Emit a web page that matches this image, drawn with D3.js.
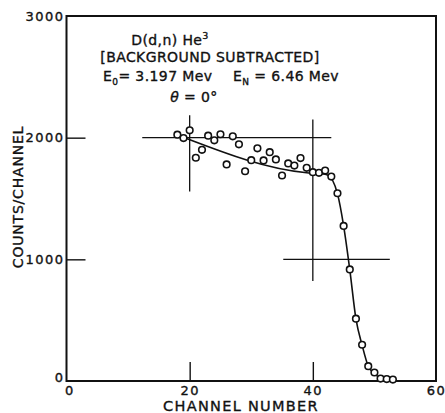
<!DOCTYPE html>
<html>
<head>
<meta charset="utf-8">
<script src="https://cdn.jsdelivr.net/npm/d3@7"></script>
<style>
  body { margin: 0; background: #fff; }
  text { font-family: "DejaVu Sans", sans-serif; fill: #111; stroke: #111; stroke-width: 0.35px; }
</style>
</head>
<body>
<div id="chart"></div>
<script>
// measured points (channel, counts per channel)
var channel = [18, 19, 20, 21, 22, 23, 24, 25, 26, 27, 28, 29, 30, 31, 32, 33, 34, 35,
               36, 37, 38, 39, 40, 41, 42, 43, 44, 45, 46, 47, 48, 49, 50, 51, 52, 53];
var counts = [2025, 1997, 2060, 1835, 1900, 2016, 1978, 2028, 1780, 2011, 1945, 1724, 1815, 1912,
              1813, 1881, 1821, 1689, 1788, 1771, 1832, 1752, 1716, 1711, 1730, 1680, 1543, 1275,
              917, 512, 298, 122, 70, 20, 16, 12];

// hand drawn fit curve
var fitChannel = [19.5, 39, 41, 42.5, 43.2, 44, 45, 46, 47, 48, 49, 50, 51, 52, 53];
var fitCounts = [1993, 1712, 1705, 1692, 1650, 1540, 1275, 915, 510, 295, 122, 62, 22, 13, 10];

// calibration crosses
var crossChannel = [20, 40];
var crossCount = [2000, 1000];
var crossLeft = [12.3, 35.2];
var crossRight = [43, 52.5];
var crossBottom = [1557, 822];
var crossTop = [2185, 2150];

var xTicks = [0, 20, 40, 60];
var yTicks = [0, 1000, 2000, 3000];

var margin = {top: 16, right: 9, bottom: 32, left: 66.5},
    width = 445 - margin.left - margin.right,
    height = 413 - margin.top - margin.bottom;

var x = d3.scaleLinear().domain([0, 60]).range([0, width]);
var y = d3.scaleLinear().domain([0, 3000]).range([height, 0]);

var svg = d3.select("#chart").append("svg")
    .attr("width", 445)
    .attr("height", 413)
  .append("g")
    .attr("transform", "translate(" + margin.left + "," + margin.top + ")");

// inward ticks
var xAxis = svg.append("g")
    .attr("transform", "translate(0," + height + ")")
    .call(d3.axisBottom(x).tickValues(xTicks).tickFormat(d3.format("d")).tickSize(-19).tickPadding(5));
var yAxis = svg.append("g")
    .call(d3.axisLeft(y).tickValues(yTicks).tickFormat(d3.format("d")).tickSize(-19).tickPadding(2));

[xAxis, yAxis].forEach(function(a) {
    a.select(".domain").remove();
    a.selectAll("line").attr("stroke", "#111").attr("stroke-width", 1.4);
    a.selectAll("text").attr("fill", "#111").style("font-size", "13px")
        .style("font-family", "DejaVu Sans, sans-serif").style("letter-spacing", "1.5px");
});
xAxis.selectAll(".tick").filter(function(d) { return d == 0 || d == 60; }).select("line").remove();
yAxis.selectAll(".tick").filter(function(d) { return d == 0 || d == 3000; }).select("line").remove();
yAxis.selectAll(".tick").filter(function(d) { return d == 0; }).select("text").attr("y", -4);
xAxis.selectAll(".tick").filter(function(d) { return d == 0; }).select("text").attr("dx", 3);

// frame
svg.append("rect")
    .attr("width", width)
    .attr("height", height)
    .attr("fill", "none")
    .attr("stroke", "#111")
    .attr("stroke-width", 2);

// crosses
for (var i = 0; i < crossChannel.length; i++) {
    svg.append("line")
        .attr("x1", x(crossLeft[i])).attr("x2", x(crossRight[i]))
        .attr("y1", y(crossCount[i])).attr("y2", y(crossCount[i]))
        .attr("stroke", "#111").attr("stroke-width", 1.3);
    svg.append("line")
        .attr("x1", x(crossChannel[i])).attr("x2", x(crossChannel[i]))
        .attr("y1", y(crossBottom[i])).attr("y2", y(crossTop[i]))
        .attr("stroke", "#111").attr("stroke-width", 1.3);
}

// fit curve
var fit = fitChannel.map(function(c, i) { return [c, fitCounts[i]]; });
svg.append("path")
    .datum(fit)
    .attr("fill", "none")
    .attr("stroke", "#111")
    .attr("stroke-width", 1.6)
    .attr("d", d3.line()
        .x(function(d) { return x(d[0]); })
        .y(function(d) { return y(d[1]); })
        .curve(d3.curveMonotoneX));

// points
svg.selectAll("circle")
    .data(channel)
  .enter().append("circle")
    .attr("cx", function(d) { return x(d); })
    .attr("cy", function(d, i) { return y(counts[i]); })
    .attr("r", 3.3)
    .attr("fill", "#fff")
    .attr("stroke", "#111")
    .attr("stroke-width", 1.6);

// axis titles
svg.append("text")
    .attr("x", 241 - margin.left)
    .attr("y", 410.5 - margin.top)
    .attr("text-anchor", "middle")
    .style("font-size", "14.5px")
    .style("letter-spacing", "1.3px")
    .text("CHANNEL NUMBER");

svg.append("text")
    .attr("transform", "translate(" + (23 - margin.left) + "," + (197 - margin.top) + ") rotate(-90)")
    .attr("text-anchor", "middle")
    .style("font-size", "14px")
    .style("letter-spacing", "0.8px")
    .text("COUNTS/CHANNEL");

// annotation block
var note = svg.append("g").style("font-size", "14px").style("letter-spacing", "0.4px");
var t1 = note.append("text").attr("x", 170 - margin.left).attr("y", 45 - margin.top).attr("text-anchor", "middle");
t1.append("tspan").text("D(d,n) He");
t1.append("tspan").attr("dy", -6).style("font-size", "9.5px").text("3");

note.append("text").attr("x", 210 - margin.left).attr("y", 62 - margin.top)
    .attr("text-anchor", "middle").text("[BACKGROUND  SUBTRACTED]");

var t3 = note.append("text").attr("x", 103 - margin.left).attr("y", 81 - margin.top);
t3.append("tspan").text("E");
t3.append("tspan").attr("dy", 4).style("font-size", "9px").text("0");
t3.append("tspan").attr("dy", -4).text("= 3.197 Mev");

var t4 = note.append("text").attr("x", 233 - margin.left).attr("y", 81 - margin.top);
t4.append("tspan").text("E");
t4.append("tspan").attr("dy", 4).style("font-size", "9px").text("N");
t4.append("tspan").attr("dy", -4).text(" = 6.46 Mev");

var t5 = note.append("text").attr("x", 194 - margin.left).attr("y", 102 - margin.top)
    .attr("text-anchor", "middle");
t5.append("tspan").style("font-style", "italic").text("θ");
t5.append("tspan").text(" = 0°");
</script>
</body>
</html>
